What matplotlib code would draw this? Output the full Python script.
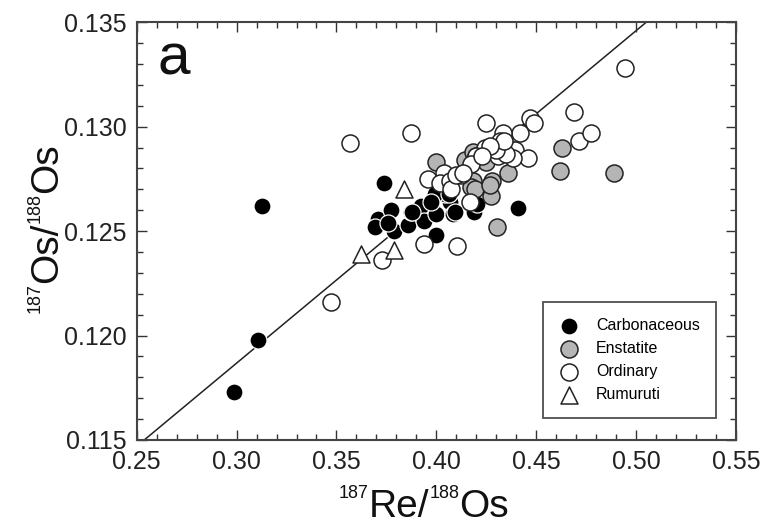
import numpy as np
import matplotlib
matplotlib.use("Agg")
import matplotlib.pyplot as plt
from matplotlib.ticker import MultipleLocator

plt.rcParams['font.family'] = ['Liberation Sans', 'DejaVu Sans']

# 187Re/188Os (x) and 187Os/188Os (y)
carb_x = [0.2985, 0.3107, 0.3125, 0.3738, 0.4408, 0.3708, 0.3775, 0.3692, 0.3790,
          0.3758, 0.3858, 0.3875, 0.3925, 0.3940, 0.3983, 0.4000, 0.4000, 0.4067,
          0.4083, 0.4042, 0.4094, 0.4186, 0.4206, 0.3992, 0.4063, 0.3971, 0.3879]
carb_y = [0.1173, 0.1198, 0.1262, 0.1273, 0.1261, 0.1256, 0.1260, 0.1252, 0.1250,
          0.1254, 0.1253, 0.1259, 0.1262, 0.1255, 0.1266, 0.1258, 0.1248, 0.1264,
          0.1258, 0.1268, 0.1259, 0.1259, 0.1263, 0.1268, 0.1268, 0.1264, 0.1259]

enst_x = [0.4303, 0.4887, 0.4617, 0.4630, 0.4358, 0.4280, 0.4275, 0.4000, 0.4142,
          0.4183, 0.4175, 0.4192, 0.4267, 0.4183, 0.4250, 0.4200]
enst_y = [0.1252, 0.1278, 0.1279, 0.1290, 0.1278, 0.1274, 0.1267, 0.1283, 0.1284,
          0.1274, 0.1271, 0.1270, 0.1272, 0.1288, 0.1283, 0.1286]

ord_x = [0.4945, 0.3569, 0.3871, 0.3471, 0.3726, 0.3940, 0.4105, 0.4250, 0.4467,
         0.4490, 0.4688, 0.4713, 0.4775, 0.4417, 0.4333, 0.4317, 0.4358, 0.4283,
         0.4392, 0.4458, 0.4383, 0.4308, 0.4242, 0.4200, 0.4175, 0.4040, 0.4125,
         0.3957, 0.4017, 0.4067, 0.4167, 0.4075, 0.4100, 0.4350, 0.4300, 0.4340,
         0.4270, 0.4230, 0.4133]
ord_y = [0.1328, 0.1292, 0.1297, 0.1216, 0.1236, 0.1244, 0.1243, 0.1302, 0.1304,
         0.1302, 0.1307, 0.1293, 0.1297, 0.1297, 0.1297, 0.1293, 0.1290, 0.1290,
         0.1289, 0.1285, 0.1285, 0.1286, 0.1290, 0.1286, 0.1282, 0.1278, 0.1277,
         0.1275, 0.1273, 0.1274, 0.1264, 0.1270, 0.1277, 0.1287, 0.1289, 0.1293,
         0.1291, 0.1286, 0.1278]

rum_x = [0.3840, 0.3624, 0.3788]
rum_y = [0.1270, 0.1239, 0.1241]

# reference isochron
slope = 0.0796
intercept = 0.0948
line_x = np.array([0.25, 0.55])

W, H = 771, 526
fig = plt.figure(figsize=(W / 100, H / 100), dpi=100)
ax = fig.add_axes([0.1773, 0.1635, 0.7773, 0.7941])

ax.plot(line_x, intercept + slope * line_x, color='#222222', lw=1.1, zorder=1)

ms = 150
ax.scatter(carb_x, carb_y, s=ms, c='black', edgecolors='white', linewidths=0.9,
           label='Carbonaceous', zorder=2)
ax.scatter(enst_x, enst_y, s=ms, c='#b5b5b5', edgecolors='#222222', linewidths=1.1,
           label='Enstatite', zorder=3)
ax.scatter(ord_x, ord_y, s=ms, c='white', edgecolors='#222222', linewidths=1.1,
           label='Ordinary', zorder=4)
ax.scatter(rum_x, rum_y, s=ms, marker='^', c='white', edgecolors='#222222',
           linewidths=1.1, label='Rumuruti', zorder=5)

ax.set_xlim(0.25, 0.55)
ax.set_ylim(0.115, 0.135)
ax.xaxis.set_major_locator(MultipleLocator(0.05))
ax.xaxis.set_minor_locator(MultipleLocator(0.01))
ax.yaxis.set_major_locator(MultipleLocator(0.005))
ax.yaxis.set_minor_locator(MultipleLocator(0.001))
ax.xaxis.set_major_formatter(plt.FormatStrFormatter('%.2f'))
ax.yaxis.set_major_formatter(plt.FormatStrFormatter('%.3f'))

ax.tick_params(which='both', direction='in', top=True, right=True,
               width=1, colors='#333333', labelcolor='#222222')
ax.tick_params(which='major', length=7, labelsize=18, pad=7)
ax.tick_params(which='minor', length=4)
for sp in ax.spines.values():
    sp.set_linewidth(1.5)
    sp.set_color('#444444')

ax.text(0.035, 0.875, 'a', transform=ax.transAxes, fontsize=42, color='#111111')

leg = ax.legend(loc='lower right', bbox_to_anchor=(0.966, 0.052), fontsize=11.5,
                frameon=True, fancybox=False, edgecolor='#222222',
                borderpad=1.0, labelspacing=0.5, handletextpad=1.1,
                borderaxespad=0, handlelength=1.2)
leg.get_frame().set_linewidth(1.3)

# axis labels with small superscript isotope numbers
fig.canvas.draw()
rend = fig.canvas.get_renderer()
label_parts = [('187', 13, True), ('Re/', 28, False), ('188', 13, True), ('Os', 28, False)]
y_parts = [('187', 13, True), ('Os/', 28, False), ('188', 13, True), ('Os', 28, False)]


def part_widths(parts):
    out = []
    for s, size, sup in parts:
        t = fig.text(0, 0, s, fontsize=size)
        out.append(t.get_window_extent(rend).width)
        t.remove()
    return out


# x label: centre 424 px, baseline 9 px above bottom, superscripts raised 19 px
ws = part_widths(label_parts)
pos = 424 - sum(ws) / 2
for (s, size, sup), w in zip(label_parts, ws):
    fig.text(pos / W, (9 + (19 if sup else 0)) / H, s, fontsize=size,
             ha='left', va='baseline', color='#111111')
    pos += w

# y label: centre 228 px from top, baseline at x = 57 px, reading upwards
ws = part_widths(y_parts)
pos = 228 + sum(ws) / 2
for (s, size, sup), w in zip(y_parts, ws):
    fig.text((57 - (17 if sup else 0)) / W, (H - pos) / H, s, fontsize=size,
             rotation=90, rotation_mode='anchor', ha='left', va='baseline',
             color='#111111')
    pos -= w

fig.savefig('out.png', dpi=100)
